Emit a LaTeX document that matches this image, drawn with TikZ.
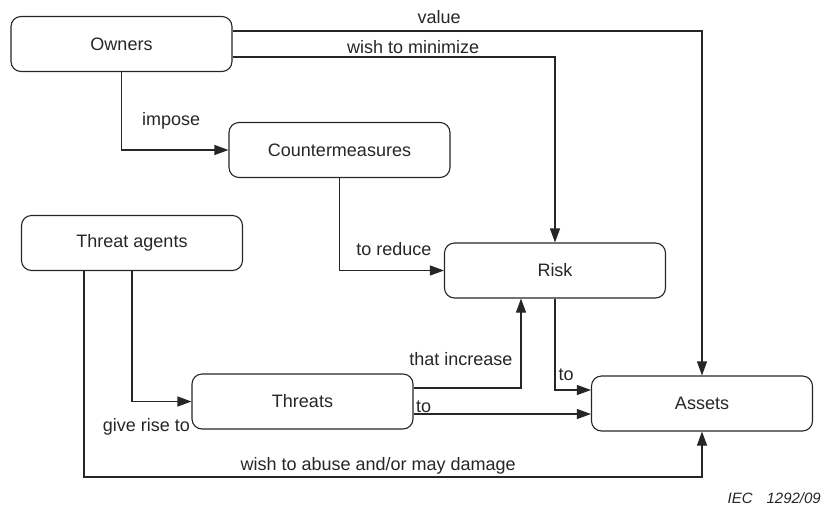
\documentclass[tikz,border=0pt]{standalone}
\usepackage{fontspec}
\setmainfont{Liberation Sans}
\usetikzlibrary{arrows.meta}

\begin{document}
\begin{tikzpicture}[
		x=1pt, y=-1pt,
		% Style of the boxes
		entity/.style={
			draw=black!85,
			line width=1.1pt,
			rounded corners=10pt,
			minimum width=221pt,
			minimum height=55pt,
			font=\fontsize{18}{22}\selectfont,
			text=black!85
		},
		% Style of the connectors
		flowarrow/.style={
			-{Triangle[length=14pt,width=10pt]},
			line width=1.1pt,
			draw=black!85
		},
		% Style of the texts on the connectors
		labelstyle/.style={
			font=\fontsize{18}{22}\selectfont,
			text=black!85,
			inner sep=0pt
		}
		]
		\useasboundingbox (0,0) rectangle (822,507);
		
		% --- BOXES ---
		\node[entity] (owners) at (121.5,44) {Owners};
		\node[entity] (counter) at (339.5,150) {Countermeasures};
		\node[entity] (agents) at (132,243) {Threat agents};
		\node[entity] (risk) at (555,270.5) {Risk};
		\node[entity] (threats) at (302.5,401.5) {Threats};
		\node[entity] (assets) at (702,403.5) {Assets};
		
		% --- BOTTOM LINE ---
		\coordinate (B) at (0,477);
		
		% --- CONNECTORS ---
		
		% Owners -> Assets
		\draw[flowarrow] ([yshift=13pt]owners.east) -| 
		node[labelstyle, pos=0.22, anchor=base, yshift=8pt] {value} 
		(assets.north);
		
		% Owners -> Risk
		\draw[flowarrow] ([yshift=-13pt]owners.east) -| 
		node[labelstyle, pos=0.28, anchor=base, yshift=4pt] {wish to minimize} 
		(risk.north);
		
		% Owners -> Countermeasures
		\draw[flowarrow] (owners.south) |- 
		node[labelstyle, pos=0.34, anchor=base west, xshift=20pt] {impose} 
		(counter.west);
		
		% Countermeasures -> Risk
		\draw[flowarrow] (counter.south) |- 
		node[labelstyle, pos=0.76, anchor=base, yshift=15pt] {to reduce} 
		(risk.west);
		
		% Threat agents -> Threats
		\draw[flowarrow] (agents.south) |- 
		node[labelstyle, pos=1, anchor=base east, xshift=-1pt, yshift=-30pt] {give rise to} 
		(threats.west);
		
		% Threat agents -> Assets
		\draw[flowarrow] ([xshift=-48pt]agents.south) -- ([xshift=-48pt]agents.south |- B) -| 
		node[labelstyle, pos=0, anchor=base west, xshift=156pt, yshift=7pt] {wish to abuse and/or may damage} 
		(assets.south);
		
		% Threats -> Risk
		\draw[flowarrow] ([yshift=13.5pt]threats.east) -| 
		node[labelstyle, pos=0.5, anchor=base east, xshift=-8pt, yshift=23pt] {that increase} 
		([xshift=-34pt]risk.south);
		
		% Risk -> Assets
		\draw[flowarrow] (risk.south) |- 
		node[labelstyle, pos=0.5, anchor=base west, xshift=3pt, yshift=10pt] {to} 
		([yshift=13.5pt]assets.west);
		
		% Threats -> Assets
		\draw[flowarrow] ([yshift=-12.5pt]threats.east) -- 
		node[labelstyle, pos=0, anchor=base west, xshift=2pt, yshift=2pt] {to} 
		([yshift=-12.5pt]threats.east -| assets.west);
		
		% --- REFERENCE ---
		\node[labelstyle, font=\fontsize{15}{18}\selectfont\itshape, anchor=base east] (iec) at (821,503) {IEC\hspace{14pt}1292/09};
		
	\end{tikzpicture}
\end{document}
